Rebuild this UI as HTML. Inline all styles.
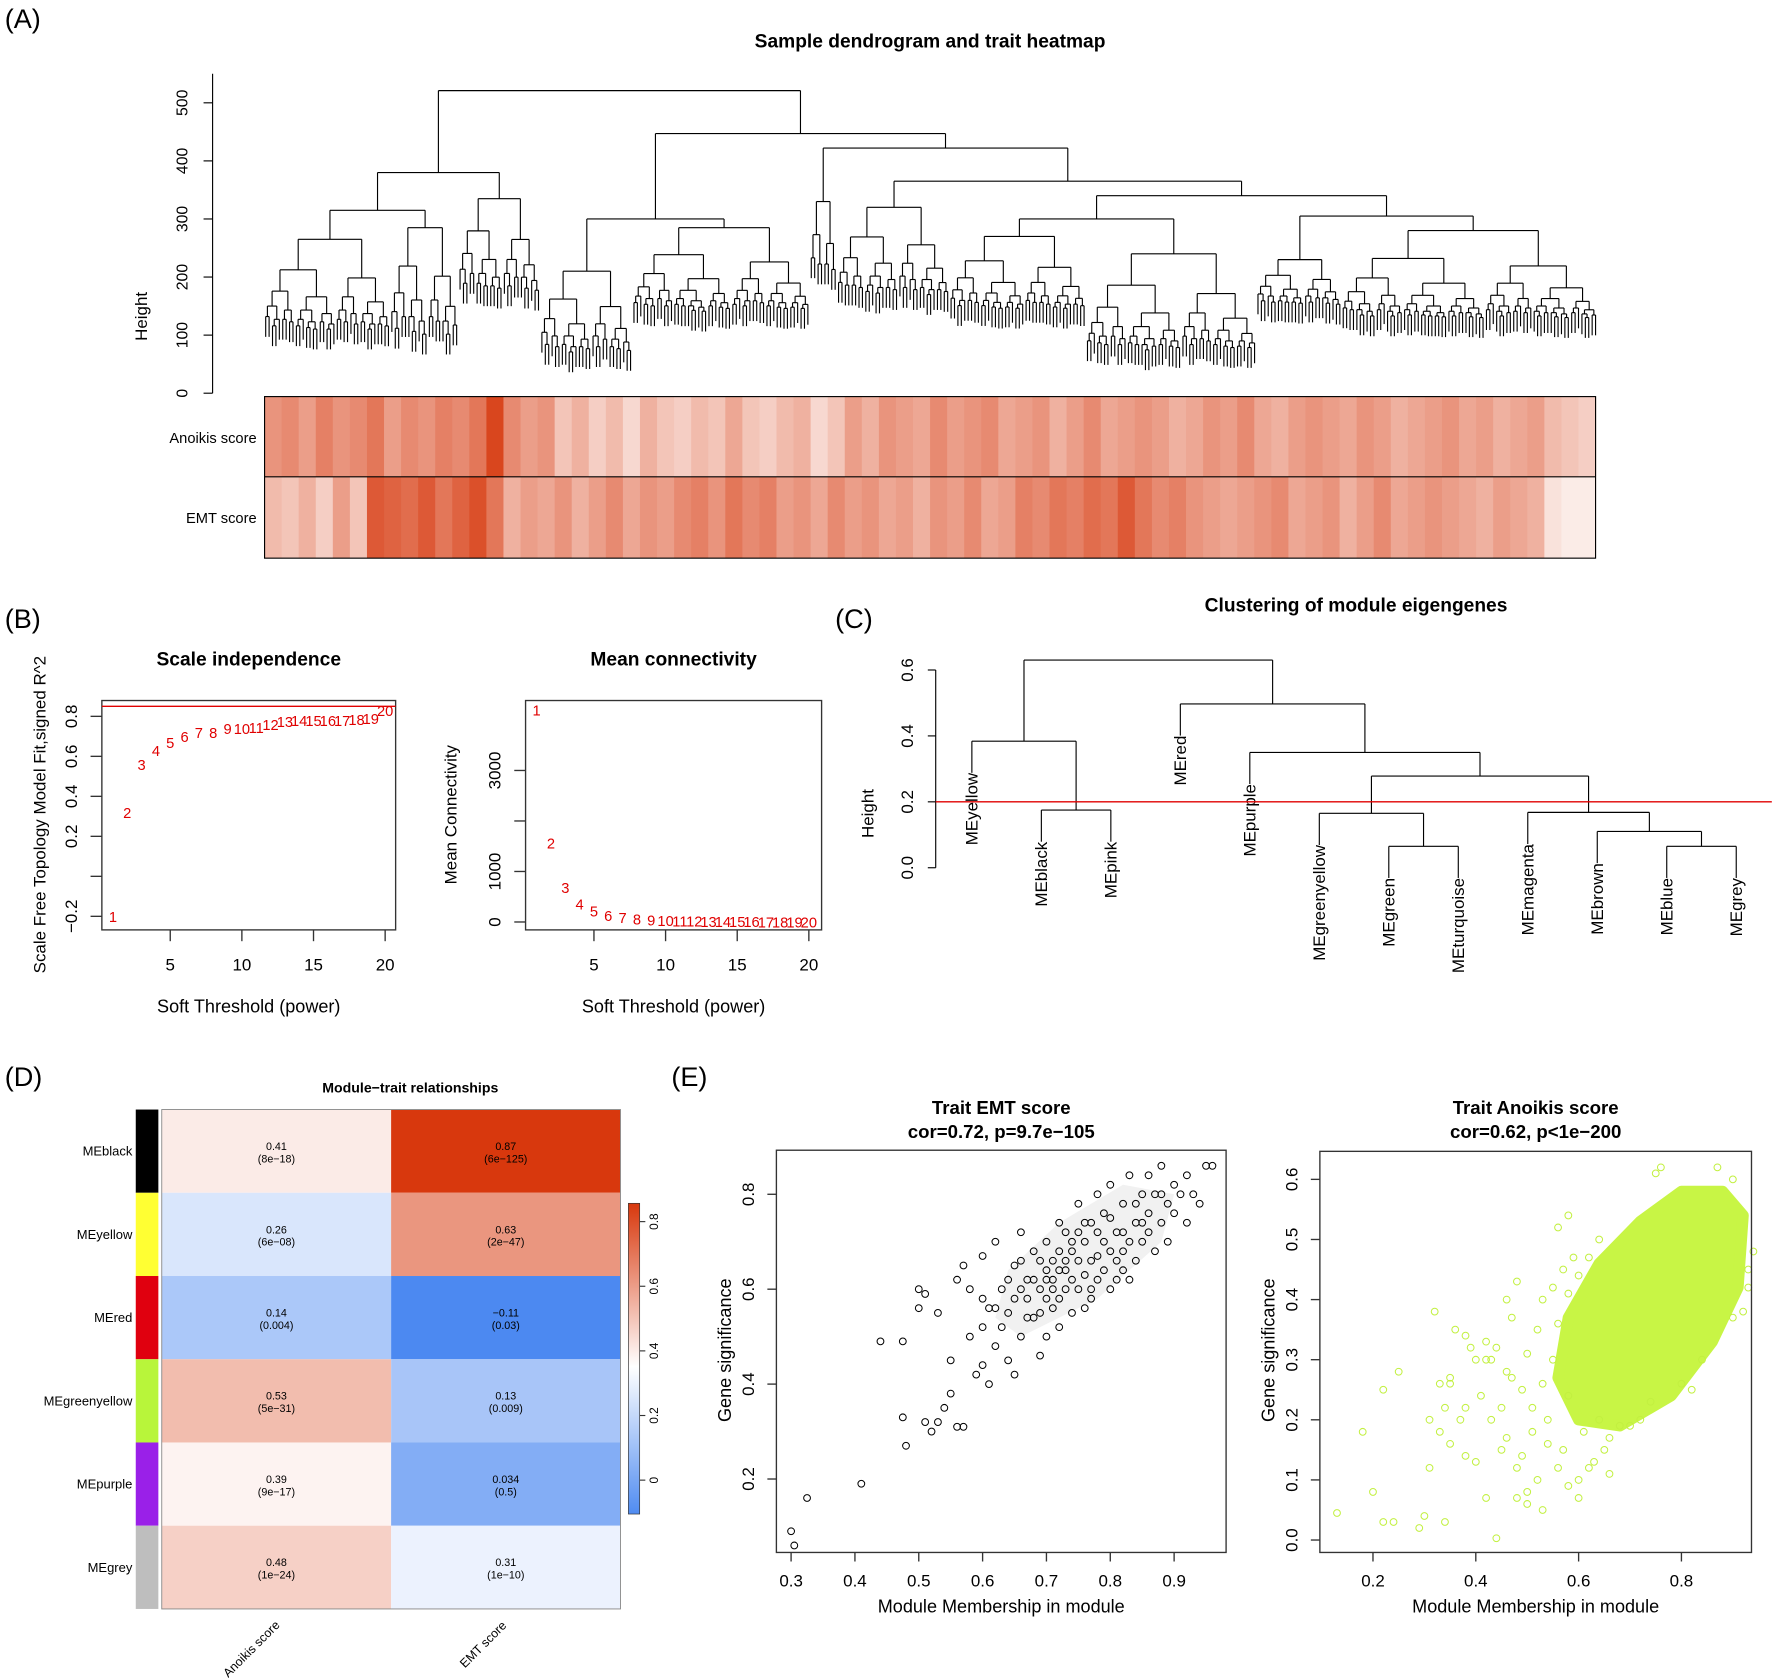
<!DOCTYPE html>
<html><head><meta charset="utf-8"><style>
html,body{margin:0;padding:0;background:#fff}
svg{display:block;font-family:"Liberation Sans",sans-serif}
</style></head><body>
<svg id="fig" width="1772" height="1679" viewBox="0 0 1568 1486" xmlns="http://www.w3.org/2000/svg">
<rect width="1568" height="1486" fill="#fff"/>
<text x="4" y="25" font-size="24">(A)</text>
<text x="823" y="42" font-size="17" font-weight="bold" text-anchor="middle">Sample dendrogram and trait heatmap</text>
<text x="4" y="556" font-size="24">(B)</text>
<text x="739" y="556" font-size="24">(C)</text>
<text x="4" y="961" font-size="24">(D)</text>
<text x="594" y="961" font-size="24">(E)</text>
<g id="gA"></g>
<g id="gH"></g>
<g id="gB1"></g>
<g id="gB2"></g>
<g id="gC"></g>
<g id="gD"></g>
<g id="gE1"></g>
<g id="gE2"></g>
</svg>
<script>
// ---------- DATA ----------
const dendroTree = {h:521,c:[
  {h:380,c:[
    {h:315,c:[{n:37,h:265,min:90},{n:20,h:285,min:65}]},
    {n:24,h:335,min:150}]},
  {h:447,c:[
    {h:300,c:[{n:27,h:210,min:50},{n:52,h:285,min:130}]},
    {h:422,c:[{n:8,h:330,min:140},
      {h:365,c:[{n:33,h:320,min:150},
        {h:340,c:[
          {h:300,c:[{n:40,h:270,min:130},{n:50,h:240,min:60}]},
          {h:305,c:[{n:25,h:230,min:140},{n:75,h:280,min:120}]}]}]}]}]}]};
const anoikisRow = [0.55,0.6,0.5,0.65,0.55,0.6,0.7,0.5,0.6,0.55,0.65,0.6,0.7,0.95,0.6,0.5,0.55,0.3,0.4,0.25,0.35,0.2,0.4,0.3,0.25,0.35,0.3,0.45,0.3,0.25,0.35,0.4,0.2,0.3,0.5,0.4,0.55,0.5,0.45,0.6,0.5,0.55,0.6,0.45,0.5,0.55,0.4,0.5,0.6,0.45,0.5,0.55,0.5,0.4,0.45,0.55,0.5,0.6,0.45,0.4,0.5,0.55,0.5,0.45,0.55,0.5,0.4,0.45,0.5,0.55,0.45,0.5,0.4,0.45,0.5,0.35,0.3,0.25];
const emtRow = [0.35,0.3,0.4,0.25,0.5,0.3,0.85,0.8,0.75,0.85,0.7,0.8,0.9,0.7,0.4,0.5,0.45,0.55,0.4,0.5,0.6,0.45,0.55,0.5,0.6,0.65,0.55,0.7,0.6,0.65,0.5,0.55,0.45,0.6,0.5,0.55,0.45,0.5,0.4,0.55,0.5,0.6,0.45,0.5,0.65,0.6,0.7,0.65,0.75,0.7,0.85,0.7,0.6,0.65,0.55,0.5,0.45,0.5,0.55,0.6,0.45,0.5,0.55,0.4,0.5,0.6,0.45,0.5,0.55,0.5,0.45,0.4,0.5,0.45,0.4,0.15,0.1,0.1];
const powers = [1,2,3,4,5,6,7,8,9,10,11,12,13,14,15,16,17,18,19,20];
const sftFit = [-0.2,0.32,0.56,0.63,0.67,0.70,0.72,0.72,0.74,0.74,0.745,0.76,0.775,0.78,0.78,0.78,0.78,0.785,0.79,0.83];
const meanK = [4200,1570,690,360,220,130,90,60,40,30,25,20,15,12,10,8,6,5,4,3];
const meLabels = ["MEyellow","MEblack","MEpink","MEred","MEpurple","MEgreenyellow","MEgreen","MEturquoise","MEmagenta","MEbrown","MEblue","MEgrey"];
const meMerges = [[-2,-3,0.175],[-7,-8,0.065],[-11,-12,0.065],[-10,3,0.11],[-6,2,0.165],[-9,4,0.168],[5,6,0.278],[-5,7,0.35],[-1,1,0.384],[-4,8,0.497],[9,10,0.63]];
const modules = ["MEblack","MEyellow","MEred","MEgreenyellow","MEpurple","MEgrey"];
const moduleColors = ["#000000","#ffff33","#e0000f","#b8f53a","#9a20e8","#bebebe"];
const anoikisCor = [0.41,0.26,0.14,0.53,0.39,0.48];
const anoikisP = ["(8e−18)","(6e−08)","(0.004)","(5e−31)","(9e−17)","(1e−24)"];
const emtCor = [0.87,0.63,-0.11,0.13,0.034,0.31];
const emtP = ["(6e−125)","(2e−47)","(0.03)","(0.009)","(0.5)","(1e−10)"];
const emtX = [0.30,0.305,0.325,0.41,0.44,0.475,0.475,0.48,0.5,0.5,0.51,0.51,0.52,0.53,0.53,0.54,0.55,0.55,0.56,0.57,0.57,0.58,0.56,0.6,0.6,0.59,0.6,0.61,0.62,0.62,0.63,0.64,0.64,0.65,0.65,0.66,0.66,0.67,0.67,0.68,0.68,0.69,0.69,0.7,0.7,0.7,0.71,0.71,0.72,0.72,0.72,0.73,0.73,0.74,0.74,0.75,0.75,0.75,0.76,0.76,0.77,0.77,0.78,0.78,0.78,0.79,0.8,0.8,0.8,0.81,0.81,0.82,0.82,0.83,0.83,0.84,0.84,0.85,0.85,0.86,0.86,0.87,0.87,0.88,0.88,0.89,0.89,0.9,0.9,0.91,0.92,0.92,0.93,0.94,0.95,0.96,0.7,0.74,0.76,0.68,0.72,0.79,0.82,0.66,0.63,0.69,0.73,0.77,0.81,0.84,0.75,0.71,0.67,0.62,0.58,0.6,0.65,0.78,0.8,0.86,0.83,0.77,0.74,0.7,0.64,0.61,0.73,0.76,0.79,0.71,0.69,0.82,0.85,0.88,0.66,0.72];
const emtY = [0.09,0.06,0.16,0.19,0.49,0.49,0.33,0.27,0.6,0.56,0.59,0.32,0.3,0.55,0.32,0.35,0.45,0.38,0.31,0.31,0.65,0.6,0.62,0.67,0.52,0.42,0.44,0.4,0.48,0.7,0.6,0.55,0.45,0.42,0.65,0.72,0.5,0.58,0.62,0.54,0.68,0.6,0.46,0.64,0.7,0.5,0.56,0.62,0.68,0.74,0.52,0.6,0.64,0.7,0.55,0.66,0.6,0.78,0.63,0.7,0.58,0.74,0.67,0.8,0.62,0.7,0.6,0.75,0.82,0.66,0.72,0.78,0.64,0.7,0.84,0.74,0.66,0.8,0.7,0.76,0.84,0.68,0.8,0.74,0.86,0.78,0.7,0.82,0.76,0.8,0.84,0.74,0.8,0.78,0.86,0.86,0.58,0.62,0.56,0.62,0.58,0.64,0.72,0.6,0.52,0.66,0.72,0.66,0.62,0.78,0.72,0.66,0.54,0.56,0.5,0.58,0.58,0.72,0.68,0.72,0.62,0.6,0.68,0.62,0.62,0.56,0.66,0.74,0.76,0.6,0.55,0.68,0.74,0.8,0.66,0.64];
const anoX = [0.13,0.18,0.2,0.22,0.22,0.25,0.24,0.29,0.3,0.31,0.32,0.33,0.34,0.35,0.35,0.37,0.38,0.39,0.4,0.42,0.43,0.45,0.46,0.44,0.5,0.52,0.53,0.58,0.6,0.56,0.58,0.64,0.75,0.76,0.87,0.9,0.94,0.93,0.62,0.66,0.48,0.5,0.36,0.44,0.48,0.41,0.33,0.38,0.42,0.35,0.38,0.42,0.46,0.5,0.53,0.56,0.34,0.31,0.4,0.48,0.45,0.47,0.49,0.51,0.52,0.54,0.55,0.57,0.58,0.6,0.61,0.63,0.65,0.64,0.66,0.68,0.7,0.72,0.74,0.8,0.82,0.84,0.9,0.92,0.93,0.53,0.55,0.57,0.59,0.47,0.43,0.46,0.49,0.51,0.54,0.56,0.58,0.6,0.62];
const anoY = [0.045,0.18,0.08,0.03,0.25,0.28,0.03,0.02,0.04,0.12,0.38,0.26,0.03,0.27,0.16,0.2,0.14,0.32,0.13,0.07,0.2,0.15,0.4,0.003,0.08,0.1,0.05,0.09,0.07,0.52,0.54,0.5,0.61,0.62,0.62,0.6,0.48,0.42,0.12,0.11,0.07,0.06,0.35,0.32,0.43,0.24,0.18,0.22,0.3,0.26,0.34,0.33,0.28,0.31,0.26,0.12,0.22,0.2,0.3,0.12,0.22,0.37,0.25,0.18,0.35,0.2,0.3,0.15,0.24,0.1,0.18,0.13,0.15,0.2,0.17,0.19,0.19,0.2,0.23,0.26,0.25,0.3,0.37,0.38,0.45,0.4,0.42,0.45,0.47,0.27,0.3,0.17,0.14,0.22,0.16,0.36,0.41,0.44,0.47];
const anoCoreX = [0.6,0.68,0.78,0.86,0.91,0.92,0.88,0.8,0.72,0.64,0.58,0.56];
const anoCoreY = [0.2,0.19,0.24,0.33,0.42,0.54,0.58,0.58,0.53,0.46,0.37,0.27];

// ---------- HELPERS ----------
const NS="http://www.w3.org/2000/svg";
function el(tag,attrs,parent,txt){const e=document.createElementNS(NS,tag);for(const k in attrs)e.setAttribute(k,attrs[k]);if(txt!==undefined)e.textContent=txt;parent.appendChild(e);return e;}
function line(p,x1,y1,x2,y2,st,w){return el('line',{x1,y1,x2,y2,stroke:st||'#000','stroke-width':w||1},p);}
function lerp(a,b,t){return Math.round(a+(b-a)*t);}
function redScale(v){return `rgb(${lerp(255,215,v)},${lerp(255,60,v)},${lerp(255,18,v)})`;}
function corColor(v){const mid=0.36;if(v<mid){const t=Math.min(1,(mid-v)/0.51);return `rgb(${lerp(255,61,t)},${lerp(255,127,t)},${lerp(255,240,t)})`;}const t=Math.min(1,(v-mid)/0.51);return `rgb(${lerp(255,216,t)},${lerp(255,56,t)},${lerp(255,13,t)})`;}

// ---------- PANEL A ----------
const gA=document.getElementById('gA');
const yH=h=>348-h*0.514;
function expand(n,h,min,depth){if(n===1)return {leaf:true};const a=Math.max(1,Math.round(n*(depth%2?0.42:0.56)));const hh=h-(h-min)*0.3;return {h:h,c:[expand(a,hh,min,depth+1),expand(n-a,hh-(h-min)*0.08,min,depth+1)]};}
function build(node){if(node.n!==undefined)return expand(node.n,node.h,node.min,0);return {h:node.h,c:node.c.map(build)};}
const fullTree=build(dendroTree);
let leafCount=0;(function cnt(n){if(n.leaf)leafCount++;else n.c.forEach(cnt);})(fullTree);
const lx0=235,lx1=1412,step=(lx1-lx0)/(leafCount-1);let li=0;
function drawNode(n){if(n.leaf){return {x:lx0+step*(li++),leaf:true};}
  const kids=n.c.map(drawNode);const y=yH(n.h);
  kids.forEach(k=>{const yb=k.leaf?yH(n.h-35):yH(k.h);line(gA,k.x,y,k.x,yb,'#000',1);});
  line(gA,kids[0].x,y,kids[1].x,y,'#000',1);
  return {x:(kids[0].x+kids[1].x)/2,h:n.h};}
drawNode(fullTree);
line(gA,188,yH(0),188,yH(550),'#000',1);
[0,100,200,300,400,500].forEach(v=>{line(gA,180,yH(v),188,yH(v));const t=el('text',{x:166,y:yH(v),'font-size':14,'text-anchor':'middle',transform:`rotate(-90 166 ${yH(v)})`},gA,String(v));});
el('text',{x:130,y:280,'font-size':15,'text-anchor':'middle',transform:'rotate(-90 130 280)',},gA,'Height');

const gH=document.getElementById('gH');
function row(vals,y0,y1){const w=(1412-234)/vals.length;vals.forEach((v,i)=>{const r=el('rect',{x:234+i*w,y:y0,width:w+0.6,height:y1-y0,fill:redScale(v)},gH);});}
row(anoikisRow,351,422);row(emtRow,422,494);
el('rect',{x:234,y:351,width:1178,height:143,fill:'none',stroke:'#000','stroke-width':1},gH);
line(gH,234,422,1412,422);
el('text',{x:227,y:392,'font-size':13,'text-anchor':'end',},gH,'Anoikis score');
el('text',{x:227,y:463,'font-size':13,'text-anchor':'end',},gH,'EMT score');

// ---------- PANEL B ----------
function sftPlot(g,box,xs,ys,ymap,title,ylab,yticks,ytickLabels,ylabX){
  el('rect',{x:box[0],y:box[1],width:box[2]-box[0],height:box[3]-box[1],fill:'none',stroke:'#333','stroke-width':1.2},g);
  const xm=p=>box[0]+9.8+(p-1)*12.68;
  el('text',{x:(box[0]+box[2])/2,y:589,'font-size':17,'font-weight':'bold','text-anchor':'middle'},g,title);
  [5,10,15,20].forEach(p=>{line(g,xm(p),box[3],xm(p),box[3]+10,'#333',1.2);const t=el('text',{x:xm(p),y:859,'font-size':15,'text-anchor':'middle'},g,String(p));});
  yticks.forEach((v,i)=>{line(g,box[0]-10,ymap(v),box[0],ymap(v),'#333',1.2);const x=box[0]-22;const t=el('text',{x:x,y:ymap(v),'font-size':15,'text-anchor':'middle',transform:`rotate(-90 ${x} ${ymap(v)})`},g,ytickLabels[i]);});
  el('text',{x:(box[0]+box[2])/2,y:896,'font-size':16,'text-anchor':'middle'},g,'Soft Threshold (power)');
  el('text',{x:ylabX,y:721,'font-size':15,'text-anchor':'middle',transform:`rotate(-90 ${ylabX} 721)`},g,ylab);
  xs.forEach((p,i)=>{const t=el('text',{x:xm(p),y:ymap(ys[i])+5,'font-size':13,fill:'#e00000','text-anchor':'middle'},g,String(p));});
}
const gB1=document.getElementById('gB1');
const yB1=v=>775.6-v*177;
sftPlot(gB1,[90,620,350,823],powers,sftFit,yB1,'Scale independence','Scale Free Topology Model Fit,signed R^2',[-0.2,0,0.2,0.4,0.6,0.8],['−0.2','','0.2','0.4','0.6','0.8'],40);
line(gB1,90,yB1(0.85),350,yB1(0.85),'#e00000',1.2);
const gB2=document.getElementById('gB2');
const yB2=v=>816-v*0.0447;
sftPlot(gB2,[465,620,727,823],powers,meanK,yB2,'Mean connectivity','Mean Connectivity',[0,1000,2000,3000],['0','1000','','3000'],404);

// ---------- PANEL C ----------
const gC=document.getElementById('gC');
el('text',{x:1200,y:541,'font-size':17,'font-weight':'bold','text-anchor':'middle'},gC,'Clustering of module eigengenes');
const yC=v=>768-v*291.7;
line(gC,828,yC(0),828,yC(0.6));
[0,0.2,0.4,0.6].forEach(v=>{line(gC,821,yC(v),828,yC(v));const t=el('text',{x:808,y:yC(v),'font-size':15,'text-anchor':'middle',transform:`rotate(-90 808 ${yC(v)})`},gC,v.toFixed(1));});
el('text',{x:773,y:720,'font-size':15,'text-anchor':'middle',transform:'rotate(-90 773 720)'},gC,'Height');
const leafX=i=>860+i*61.5;
const mPos=[];
function pos(r){return r<0?{x:leafX(-r-1),leaf:-r-1}:{x:mPos[r-1].x,h:mPos[r-1].h};}
meMerges.forEach(m=>{const a=pos(m[0]),b=pos(m[1]);const y=yC(m[2]);
  [a,b].forEach(k=>{if(k.leaf!==undefined){const yb=yC(m[2]-0.096);line(gC,k.x,y,k.x,yb);const t=el('text',{x:k.x+5,y:yb,'font-size':15,'text-anchor':'end',transform:`rotate(-90 ${k.x+5} ${yb})`},gC,meLabels[k.leaf]);}else line(gC,k.x,y,k.x,yC(k.h));});
  line(gC,a.x,y,b.x,y);mPos.push({x:(a.x+b.x)/2,h:m[2]});});
line(gC,828,yC(0.2),1568,yC(0.2),'#e00000',1.2);

// ---------- PANEL D ----------
const gD=document.getElementById('gD');
el('text',{x:363,y:967,'font-size':12.5,'font-weight':'bold','text-anchor':'middle'},gD,'Module−trait relationships');
const rh=(1424-982)/modules.length;
modules.forEach((m,i)=>{const y=982+i*rh;
  const s=el('rect',{x:120,y:y,width:20,height:rh,fill:moduleColors[i]},gD);
  const c1=el('rect',{x:143,y:y,width:203,height:rh,fill:corColor(anoikisCor[i])},gD);
  const c2=el('rect',{x:346,y:y,width:203,height:rh,fill:corColor(emtCor[i])},gD);
  el('text',{x:117,y:y+rh/2+4,'font-size':11.5,'text-anchor':'end'},gD,m);
  el('text',{x:244.5,y:y+rh/2-1,'font-size':9.5,'text-anchor':'middle'},gD,String(anoikisCor[i]));
  el('text',{x:244.5,y:y+rh/2+10,'font-size':9.5,'text-anchor':'middle'},gD,anoikisP[i]);
  el('text',{x:447.5,y:y+rh/2-1,'font-size':9.5,'text-anchor':'middle'},gD,String(emtCor[i]).replace('-','−'));
  el('text',{x:447.5,y:y+rh/2+10,'font-size':9.5,'text-anchor':'middle'},gD,emtP[i]);});
el('rect',{x:143,y:982,width:406,height:442,fill:'none',stroke:'#888','stroke-width':0.8},gD);
el('text',{x:225,y:1462,'font-size':11,'text-anchor':'middle',transform:'rotate(-45 225 1462)'},gD,'Anoikis score');
el('text',{x:430,y:1458,'font-size':11,'text-anchor':'middle',transform:'rotate(-45 430 1458)'},gD,'EMT score');
const defs=el('defs',{},gD);const lg=el('linearGradient',{id:'cb',x1:0,y1:1,x2:0,y2:0},defs);
[-0.1,0.1,0.36,0.6,0.87].forEach(v=>el('stop',{offset:((v+0.1)/0.97).toFixed(3),'stop-color':corColor(v)},lg));
const yCb=v=>1310-v*286;
el('rect',{x:556,y:1065,width:10,height:275,fill:'url(#cb)',stroke:'#333','stroke-width':0.6,},gD);
[0,0.2,0.4,0.6,0.8].forEach(v=>{line(gD,566,yCb(v),571,yCb(v),'#333');el('text',{x:582,y:yCb(v),'font-size':10.5,'text-anchor':'middle',transform:`rotate(-90 582 ${yCb(v)})`},gD,String(v));});

// ---------- PANEL E ----------
function scatter(g,box,xmap,ymap,xt,yt,t1,t2,xs,ys,col){
  el('text',{x:(box[0]+box[2])/2,y:986,'font-size':16.5,'font-weight':'bold','text-anchor':'middle'},g,t1);
  el('text',{x:(box[0]+box[2])/2,y:1007,'font-size':16.5,'font-weight':'bold','text-anchor':'middle'},g,t2);
  xs.forEach((x,i)=>{const c=el('circle',{cx:xmap(x),cy:ymap(ys[i]),r:3,fill:'none',stroke:col,'stroke-width':0.9},g);});
  el('rect',{x:box[0],y:box[1],width:box[2]-box[0],height:box[3]-box[1],fill:'none',stroke:'#333','stroke-width':1.2},g);
  xt.forEach(v=>{line(g,xmap(v),box[3],xmap(v),box[3]+8,'#333',1.2);const t=el('text',{x:xmap(v),y:1404,'font-size':15,'text-anchor':'middle'},g,String(v));});
  const tx=box[0]-20;
  yt.forEach(v=>{line(g,box[0]-8,ymap(v),box[0],ymap(v),'#333',1.2);const t=el('text',{x:tx,y:ymap(v),'font-size':15,'text-anchor':'middle',transform:`rotate(-90 ${tx} ${ymap(v)})`},g,v.toFixed(1));});
  el('text',{x:(box[0]+box[2])/2,y:1427,'font-size':16,'text-anchor':'middle'},g,'Module Membership in module');
  const lx=box[0]-40;el('text',{x:lx,y:1195,'font-size':16,'text-anchor':'middle',transform:`rotate(-90 ${lx} 1195)`},g,'Gene significance');
}
const gE1=document.getElementById('gE1');
const xE1=v=>700+(v-0.3)*565, yE1=v=>1057+(0.8-v)*420;
el('path',{d:'M'+[[0.66,0.5],[0.78,0.58],[0.88,0.7],[0.9,0.8],[0.82,0.82],[0.72,0.74],[0.64,0.64],[0.62,0.54]].map(p=>xE1(p[0])+','+yE1(p[1])).join('L')+'Z',fill:'#c8c8c8','fill-opacity':0.25,stroke:'none'},gE1);
scatter(gE1,[687,1018,1085,1374],xE1,yE1,[0.3,0.4,0.5,0.6,0.7,0.8,0.9],[0.2,0.4,0.6,0.8],'Trait EMT score','cor=0.72, p=9.7e−105',emtX,emtY,'#000');
const gE2=document.getElementById('gE2');
const xE2=v=>1215+(v-0.2)*455, yE2=v=>1363-v*532;
el('path',{d:'M'+anoCoreX.map((x,i)=>xE2(x)+','+yE2(anoCoreY[i])).join('L')+'Z',fill:'#c8f545',stroke:'#c8f545','stroke-width':10,'stroke-linejoin':'round',},gE2);
scatter(gE2,[1168,1019,1550,1374],xE2,yE2,[0.2,0.4,0.6,0.8],[0,0.1,0.2,0.3,0.4,0.5,0.6],'Trait Anoikis score','cor=0.62, p<1e−200',anoX,anoY,'#c2f040');
</script>
</body></html>
